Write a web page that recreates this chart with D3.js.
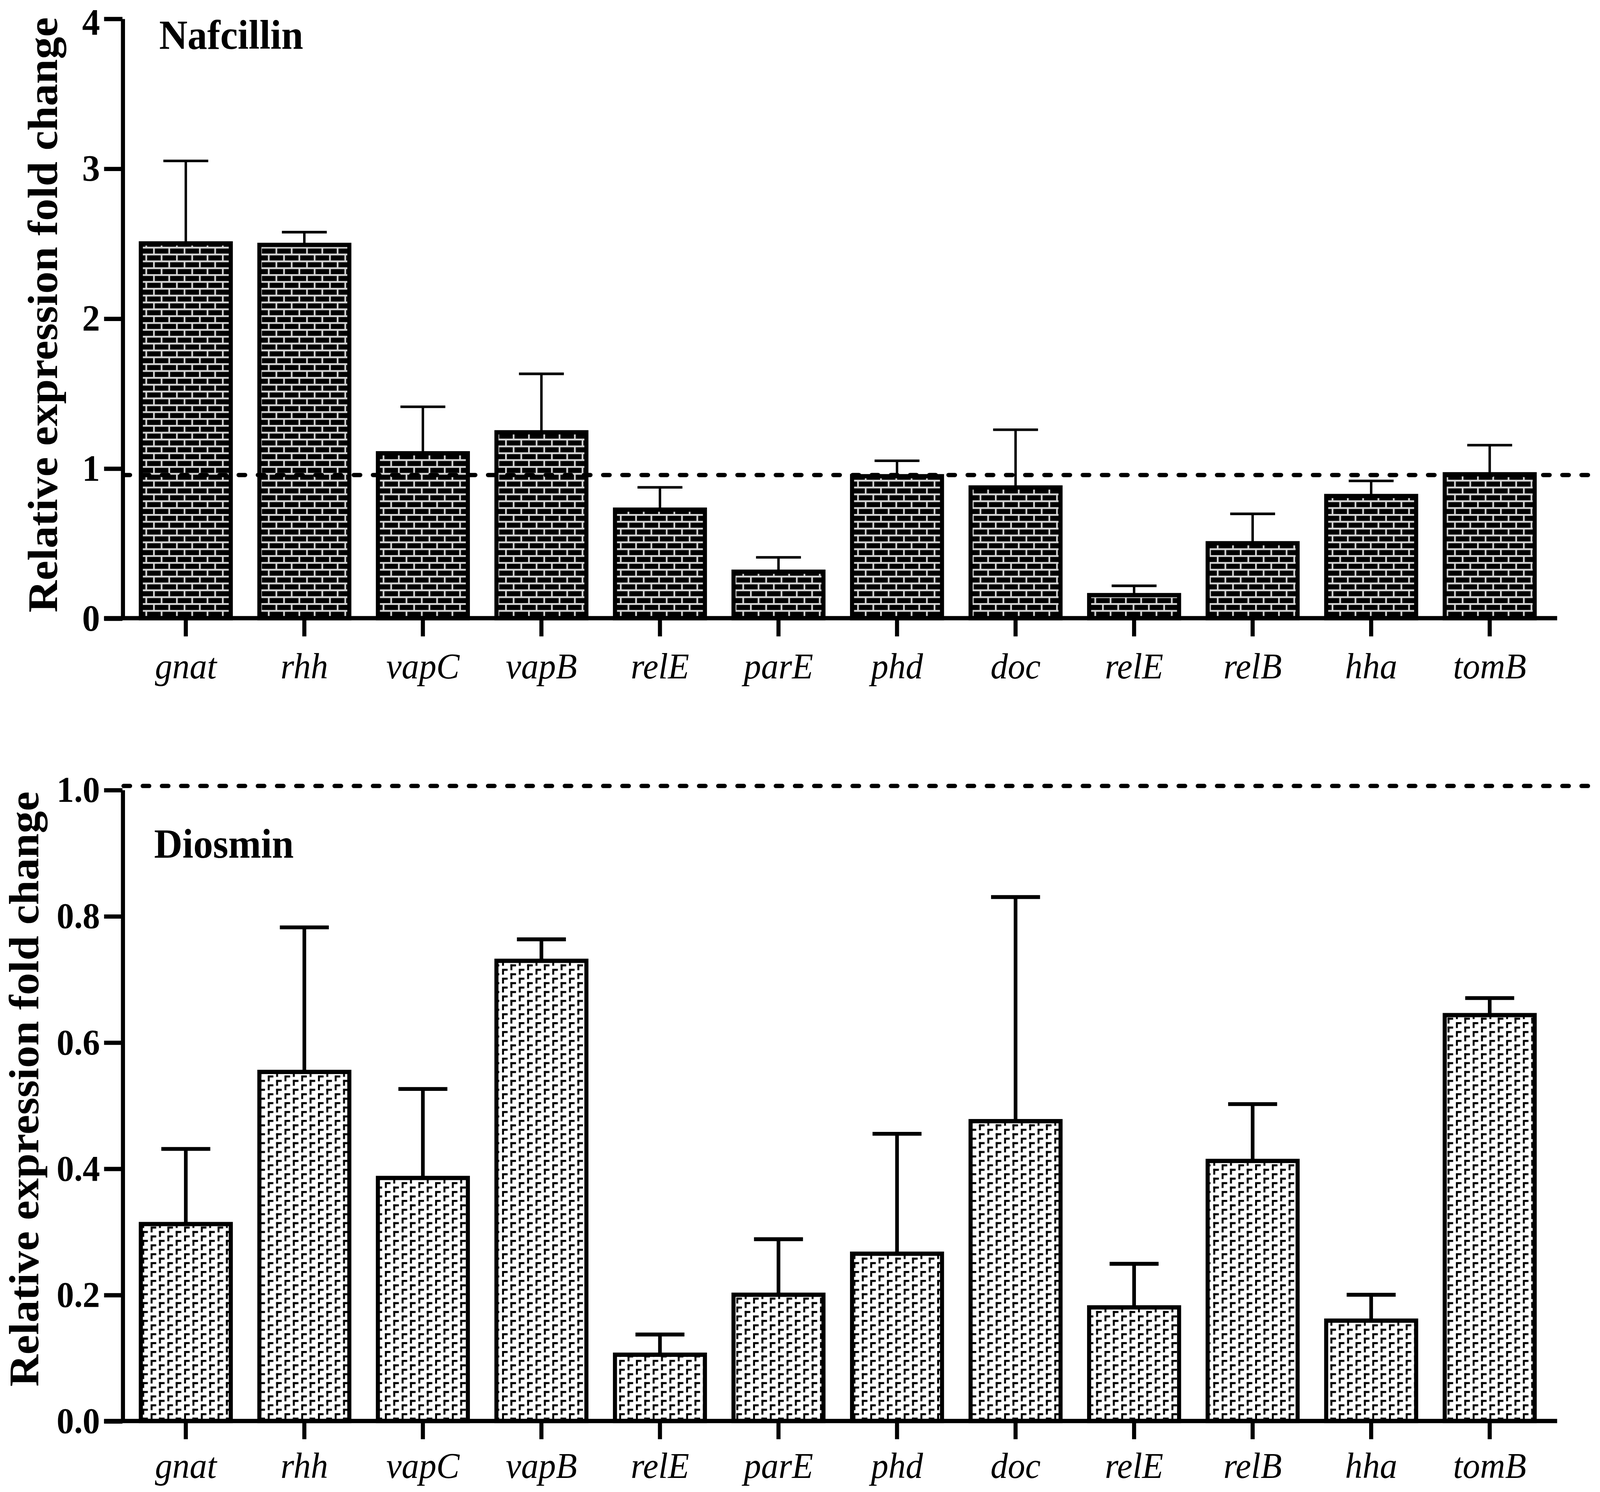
<!DOCTYPE html>
<html>
	<head>
		<title>Relative expression fold change</title>
		<script src="https://d3js.org/d3.v7.min.js"></script>

		<style>
			html, body {
			  margin: 0;
			  padding: 0;
			  overflow: hidden;
			  background: #fff;
			}

			#chart {
			  display: block;
			  width: 100vw;
			  height: 100vh;
			}

			text {
			  font-family: "Liberation Serif", "Times New Roman", Times, serif;
			  fill: black;
			}

			.axis path, .axis line {
			  stroke: #000;
			  stroke-width: 4px;
			}

			.ytick text {
			  font-weight: bold;
			}

			.xtick text {
			  font-style: italic;
			  font-size: 34px;
			}

			.err {
			  stroke: #000;
			  fill: none;
			}

			.refline {
			  stroke: #000;
			  stroke-width: 4px;
			  stroke-dasharray: 6.5 12.3;
			  stroke-linecap: round;
			}
		</style>
	</head>

	<body>

		<svg id="chart" viewBox="0 0 1568 1393.3" preserveAspectRatio="none">
			<defs>
				<pattern id="brick" patternUnits="userSpaceOnUse" width="15" height="12.8">
					<rect width="15" height="12.8" fill="#000"></rect>
					<rect x="0" y="0" width="15" height="1.7" fill="#d4d4d4"></rect>
					<rect x="0" y="6.4" width="15" height="1.7" fill="#d4d4d4"></rect>
					<rect x="0" y="0" width="1.7" height="6.4" fill="#d4d4d4"></rect>
					<rect x="7.5" y="6.4" width="1.7" height="6.4" fill="#d4d4d4"></rect>
				</pattern>
				<pattern id="gamma" patternUnits="userSpaceOnUse" width="16.4" height="8.3">
					<rect width="16.4" height="8.3" fill="#fff"></rect>
					<rect x="0" y="0" width="1.9" height="5.5" fill="#000"></rect>
					<rect x="0" y="0" width="5.5" height="1.9" fill="#000"></rect>
					<rect x="8.2" y="4.15" width="1.9" height="5.5" fill="#000"></rect>
					<rect x="8.2" y="-4.15" width="1.9" height="5.5" fill="#000"></rect>
					<rect x="8.2" y="4.15" width="5.5" height="1.9" fill="#000"></rect>
				</pattern>
			</defs>
		</svg>

        <script type="text/javascript">
			// genes on the x axis (relE shows up twice)
			var genes = ["gnat", "rhh", "vapC", "vapB", "relE", "parE", "phd", "doc", "relE", "relB", "hha", "tomB"];

			// Nafcillin: mean fold change and SD
			var nafcillinMean = [2.50, 2.49, 1.10, 1.24, 0.724, 0.31, 0.947, 0.872, 0.154, 0.50, 0.815, 0.96];
			var nafcillinSD = [0.55, 0.085, 0.31, 0.39, 0.149, 0.096, 0.103, 0.385, 0.062, 0.196, 0.101, 0.194];
			var nafcillinTicks = [0, 1, 2, 3, 4];
			var nafcillinRef = 0.955;

			// Diosmin: mean fold change and SD
			var diosminMean = [0.312, 0.553, 0.385, 0.729, 0.105, 0.200, 0.265, 0.475, 0.180, 0.412, 0.159, 0.643];
			var diosminSD = [0.119, 0.229, 0.141, 0.034, 0.032, 0.088, 0.190, 0.355, 0.069, 0.090, 0.041, 0.027];
			var diosminTicks = [0, 0.2, 0.4, 0.6, 0.8, 1.0];
			var diosminRef = 1.006;

			var svg = d3.select('#chart');

			var x = d3.scaleBand()
			  .domain(d3.range(genes.length))
			  .range([120, 1522])
			  .paddingInner(0.241)
			  .paddingOuter(0.155);

			var yTick = 18;
			var axisRight = 1526;

			function drawPanel(opt) {
				var y = d3.scaleLinear()
				  .domain(opt.domain)
				  .range(opt.range);

				var g = svg.append('g');

				var rows = opt.mean.map(function(m, i) {
					return {i: i, mean: m, sd: opt.sd[i]};
				});

				// error bars (upper only)
				var eb = g.append('g').selectAll('g.err')
				  .data(rows)
				  .enter()
				  .append('g')
				  .classed('err', true)
				  .style('stroke-width', opt.errWidth);

				eb.append('line')
				  .attr('x1', function(d) {return x(d.i) + x.bandwidth() / 2;})
				  .attr('x2', function(d) {return x(d.i) + x.bandwidth() / 2;})
				  .attr('y1', function(d) {return y(d.mean);})
				  .attr('y2', function(d) {return y(d.mean + d.sd);});

				eb.append('line')
				  .attr('x1', function(d) {return x(d.i) + x.bandwidth() / 2 - opt.capWidth / 2;})
				  .attr('x2', function(d) {return x(d.i) + x.bandwidth() / 2 + opt.capWidth / 2;})
				  .attr('y1', function(d) {return y(d.mean + d.sd);})
				  .attr('y2', function(d) {return y(d.mean + d.sd);});

				// bars
				g.append('g').selectAll('rect')
				  .data(rows)
				  .enter()
				  .append('rect')
				  .attr('x', function(d) {return x(d.i);})
				  .attr('width', x.bandwidth())
				  .attr('y', function(d) {return y(d.mean);})
				  .attr('height', function(d) {return y(0) - y(d.mean);})
				  .attr('fill', 'url(#' + opt.pattern + ')')
				  .attr('stroke', '#000')
				  .attr('stroke-width', 4);

				// y axis
				var ya = g.append('g')
				  .attr('class', 'axis ytick')
				  .attr('transform', 'translate(' + x.range()[0] + ',0)')
				  .call(d3.axisLeft(y)
				    .tickValues(opt.ticks)
				    .tickFormat(opt.fmt)
				    .tickSize(yTick)
				    .tickSizeOuter(0)
				    .tickPadding(4));
				ya.selectAll('text')
				  .style('font-size', opt.tickFont + 'px')
				  .attr('dy', function(d) {
				    // the label at the very top sits a little lower, as in the figure
				    return y(d) < 40 ? '0.42em' : '0.32em';
				  });

				// x axis
				var xa = g.append('g')
				  .attr('class', 'axis xtick')
				  .attr('transform', 'translate(0,' + y(0) + ')')
				  .call(d3.axisBottom(x)
				    .tickFormat(function(i) {return genes[i];})
				    .tickSize(17)
				    .tickSizeOuter(0)
				    .tickPadding(opt.xPad));
				xa.select('.domain')
				  .attr('d', 'M' + (x.range()[0] - yTick) + ',0H' + axisRight);

				// reference line
				g.append('line')
				  .classed('refline', true)
				  .attr('x1', x.range()[0] + 1)
				  .attr('x2', 1562)
				  .attr('y1', y(opt.ref))
				  .attr('y2', y(opt.ref));

				// panel title
				g.append('text')
				  .attr('x', opt.titleX)
				  .attr('y', opt.titleY)
				  .style('font-weight', 'bold')
				  .style('font-size', '38.5px')
				  .text(opt.title);

				// y axis title
				g.append('text')
				  .attr('transform', 'translate(' + opt.labelX + ',' + opt.labelY + ') rotate(-90)')
				  .attr('text-anchor', 'middle')
				  .style('font-weight', 'bold')
				  .style('font-size', '41.5px')
				  .text('Relative expression fold change');
			}

			drawPanel({
				mean: nafcillinMean,
				sd: nafcillinSD,
				ticks: nafcillinTicks,
				ref: nafcillinRef,
				domain: [0, 4],
				range: [577.3, 17.3],
				fmt: d3.format('d'),
				tickFont: 35,
				pattern: 'brick',
				errWidth: 2.4,
				capWidth: 44,
				xPad: 15,
				title: 'Nafcillin',
				titleX: 156,
				titleY: 45.6,
				labelX: 56,
				labelY: 294
			});

			drawPanel({
				mean: diosminMean,
				sd: diosminSD,
				ticks: diosminTicks,
				ref: diosminRef,
				domain: [0, 1],
				range: [1327, 737.5],
				fmt: d3.format('.1f'),
				tickFont: 34,
				pattern: 'gamma',
				errWidth: 3.6,
				capWidth: 48,
				xPad: 12,
				title: 'Diosmin',
				titleX: 151,
				titleY: 801,
				labelX: 37.5,
				labelY: 1017
			});

        </script>

	</body>
</html>
